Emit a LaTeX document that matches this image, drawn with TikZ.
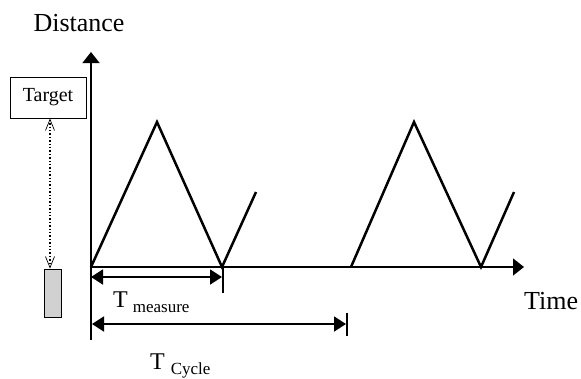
\documentclass[tikz,border=0pt]{standalone}
\usepackage{fontspec}
\setmainfont{Liberation Serif}
\usetikzlibrary{arrows.meta}

\tikzset{
  axis/.style={line width=1.3pt, -{Triangle[length=11pt,width=17pt]}},
  wave/.style={line width=2.5pt, line join=miter},
  span/.style={line width=1.8pt, {Triangle[length=12pt,width=15pt]}-{Triangle[length=12pt,width=15pt]}},
  tick/.style={line width=1.8pt},
  big/.style={font=\fontsize{26}{28}\selectfont},
  letter/.style={font=\fontsize{24}{26}\selectfont}
}

\begin{document}
\begin{tikzpicture}[x=1pt,y=-1pt]
\useasboundingbox (0,0) rectangle (581,378);

% axes
\coordinate (origin) at (91,267);
\coordinate (ytip) at (91,52);
\coordinate (ybot) at (91,340);
\coordinate (xtip) at (524,267);
\draw[axis] (ybot) -- (ytip);
\draw[axis] (origin) -- (xtip);
\node[big] (dist) at (79,23) {Distance};
\node[big, anchor=base west, inner sep=0] (time) at (524,309) {Time};

% triangle wave
\coordinate (peak1) at (157,122);
\coordinate (valley1) at (222,267);
\coordinate (end1) at (256,192);
\coordinate (start2) at (351,267);
\coordinate (peak2) at (414,122);
\coordinate (valley2) at (481,267);
\coordinate (end2) at (514,192);
\draw[wave] (origin) -- (peak1) -- (valley1) -- (end1);
\draw[wave] (start2) -- (peak2) -- (valley2) -- (end2);

% target and sensor
\node[draw, line width=1pt, minimum width=76pt, minimum height=41pt, inner sep=0,
      font=\fontsize{20}{22}\selectfont] (target) at (48,97.5) {Target\hspace{10pt}};
\node[draw, line width=1pt, fill=black!18, minimum width=17pt, minimum height=48pt,
      inner sep=0] (sensor) at (52.5,293) {};
\draw[dotted, line width=1.4pt, {Straight Barb[length=11pt,width=9pt,line width=0.7pt]}-{Straight Barb[length=11pt,width=9pt,line width=0.7pt]}]
  ([xshift=2pt]target.south) -- ([xshift=2pt]target.south |- sensor.north);

% measure span
\coordinate (mleft) at (91,277);
\coordinate (mright) at (222,277);
\coordinate (mtop) at (223,267);
\coordinate (mbot) at (223,293);
\draw[tick] (mtop) -- (mbot);
\draw[span] (mleft) -- (mright);
\node[letter, anchor=base west, inner sep=0] (tmeas) at (113,307)
  {T\hspace{5pt}\raisebox{-5pt}{\fontsize{17}{19}\selectfont measure}};

% cycle span
\coordinate (cleft) at (92,324);
\coordinate (cright) at (346,324);
\coordinate (ctop) at (347,313);
\coordinate (cbot) at (347,336);
\draw[tick] (ctop) -- (cbot);
\draw[span] (cleft) -- (cright);
\node[letter, anchor=base west, inner sep=0] (tcyc) at (150,369)
  {T\hspace{6pt}\raisebox{-5pt}{\fontsize{17}{19}\selectfont Cycle}};
\end{tikzpicture}
\end{document}
